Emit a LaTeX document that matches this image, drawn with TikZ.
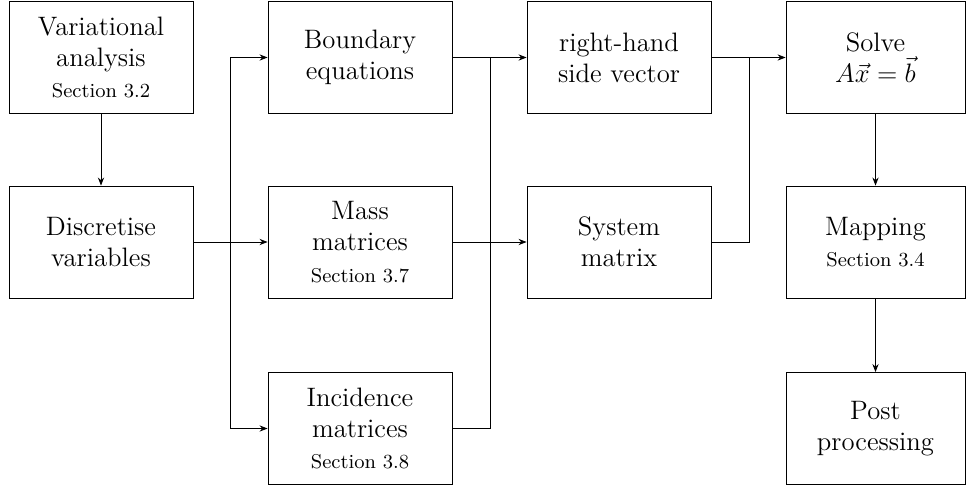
\documentclass[tikz,border=0pt]{standalone}
\usetikzlibrary{arrows.meta}
\begin{document}
\begin{tikzpicture}[
  x=0.45pt, y=-0.45pt,
  stepbox/.style={draw, line width=0.4pt, rectangle, inner sep=0pt,
    minimum width=82.8pt, minimum height=50.4pt, align=center,
    font=\fontsize{12}{14}\selectfont},
  lastbox/.style={stepbox, minimum width=80.55pt},
  flow/.style={line width=0.4pt, -{Stealth[length=3.6pt,width=2.8pt]}},
  link/.style={line width=0.4pt},
]
\newcommand{\secref}[1]{{\fontsize{9}{11}\selectfont Section #1}}
\useasboundingbox (0,0) rectangle (966,486);

% first column
\node[stepbox] (var)  at (101,57.5) {Variational\\analysis\\\secref{3.2}};
\node[stepbox] (disc) at (101,242)  {Discretise\\variables};

% second column
\node[stepbox] (bnd)  at (360,57.5)  {Boundary\\equations};
\node[stepbox] (mass) at (360,242)   {Mass\\matrices\\\secref{3.7}};
\node[stepbox] (inc)  at (360,428.5) {Incidence\\matrices\\\secref{3.8}};

% third column
\node[stepbox] (rhs) at (619,57.5) {right-hand\\side vector};
\node[stepbox] (sys) at (619,242)  {System\\matrix};

% last column
\node[lastbox] (solve) at (875.5,57.5)  {Solve\\$A\vec{x}=\vec{b}$};
\node[lastbox] (map)   at (875.5,242)   {Mapping\\\secref{3.4}};
\node[lastbox] (post)  at (875.5,428.5) {Post\\processing};

% junction points of the branching lines
\coordinate (j1) at (230,242);
\coordinate (j2) at (490,57.5);
\coordinate (j3) at (749,57.5);

% connectors
\draw[flow] (var) -- (disc);
\draw[flow] (disc.east) -- (mass.west);
\draw[flow] (j1) |- (bnd.west);
\draw[flow] (j1) |- (inc.west);

\draw[link] (bnd.east) -- (j2);
\draw[link] (inc.east) -| (j2);
\draw[flow] (j2) -- (rhs.west);
\draw[flow] (mass.east) -- (sys.west);

\draw[link] (rhs.east) -- (j3);
\draw[link] (sys.east) -| (j3);
\draw[flow] (j3) -- (solve.west);

\draw[flow] (solve) -- (map);
\draw[flow] (map) -- (post);
\end{tikzpicture}
\end{document}
